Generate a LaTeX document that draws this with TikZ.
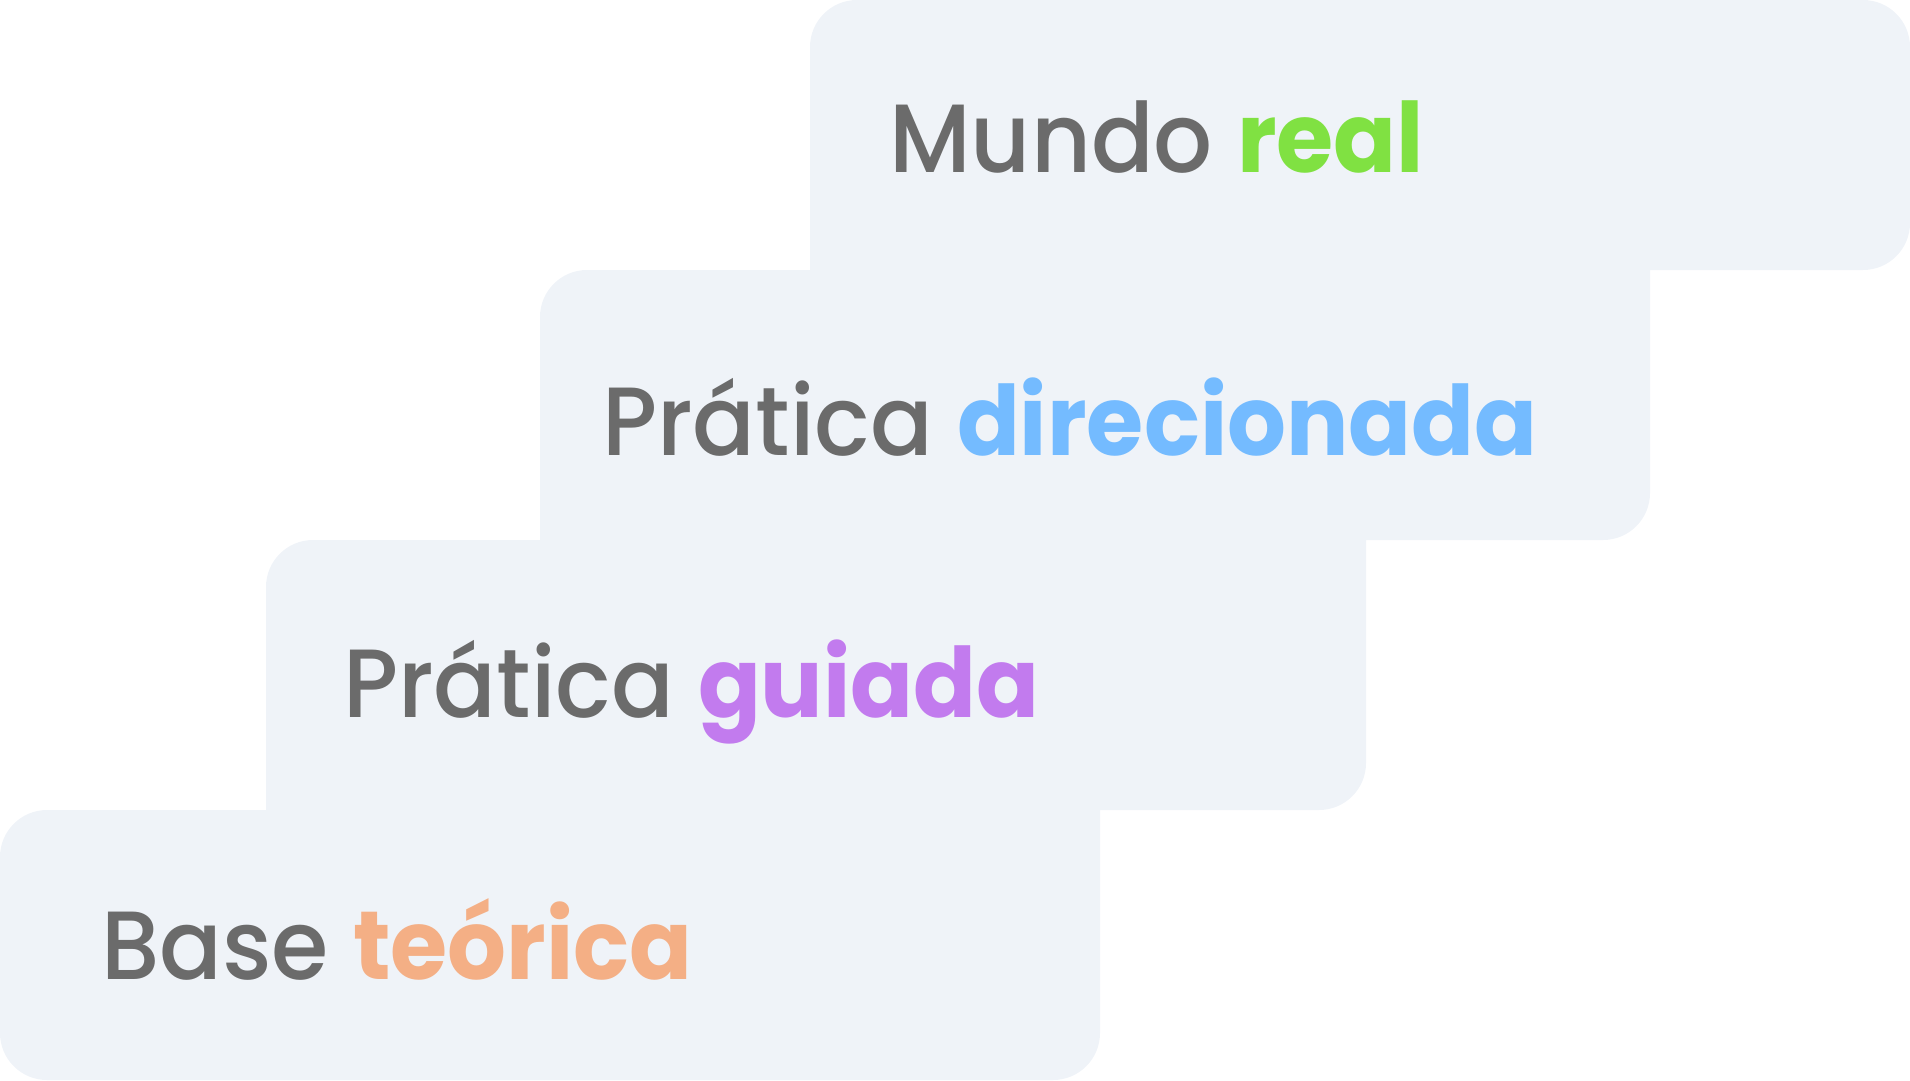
\documentclass[tikz,border=0pt]{standalone}
\usepackage{fontspec}
\setmainfont{Poppins}[UprightFont=* Medium, BoldFont=* Bold, FakeStretch=0.955]
\definecolor{boxfill}{HTML}{EFF3F8}
\definecolor{txtgray}{HTML}{6B6B6B}
\definecolor{cgreen}{HTML}{80E142}
\definecolor{cblue}{HTML}{74BBFF}
\definecolor{cpurple}{HTML}{C27BEE}
\definecolor{corange}{HTML}{F4AF85}
\tikzset{
  steplabel/.style={anchor=base west, inner sep=0pt, text=txtgray,
    font=\fontsize{97}{110}\selectfont},
}
\begin{document}
\begin{tikzpicture}[x=1pt,y=-1pt]
\useasboundingbox (0,0) rectangle (1910,1080);
\def\r{47}
% stair-shaped background
\fill[boxfill]
  (0,810+\r) arc[start angle=-180,end angle=-90,radius=\r] -- (266,810)
  -- (266,540+\r) arc[start angle=-180,end angle=-90,radius=\r] -- (540,540)
  -- (540,270+\r) arc[start angle=-180,end angle=-90,radius=\r] -- (810,270)
  -- (810,\r) arc[start angle=-180,end angle=-90,radius=\r] -- (1910-\r,0)
  arc[start angle=-90,end angle=0,radius=\r] -- (1910,270-\r)
  arc[start angle=0,end angle=90,radius=\r] -- (1650,270)
  -- (1650,540-\r) arc[start angle=0,end angle=90,radius=\r] -- (1366,540)
  -- (1366,810-\r) arc[start angle=0,end angle=90,radius=\r] -- (1100,810)
  -- (1100,1080-\r) arc[start angle=0,end angle=90,radius=\r] -- (\r,1080)
  arc[start angle=90,end angle=180,radius=\r] -- cycle;
% labels
\node[steplabel] (real) at (889,172) {Mundo \textcolor{cgreen}{\textbf{real}}};
\node[steplabel] (dir) at (602,455) {Prática \textcolor{cblue}{\textbf{direcionada}}};
\node[steplabel] (gui) at (343,717) {Prática \textcolor{cpurple}{\textbf{guiada}}};
\node[steplabel] (base) at (101,979) {Base \textcolor{corange}{\textbf{teórica}}};
\end{tikzpicture}
\end{document}
